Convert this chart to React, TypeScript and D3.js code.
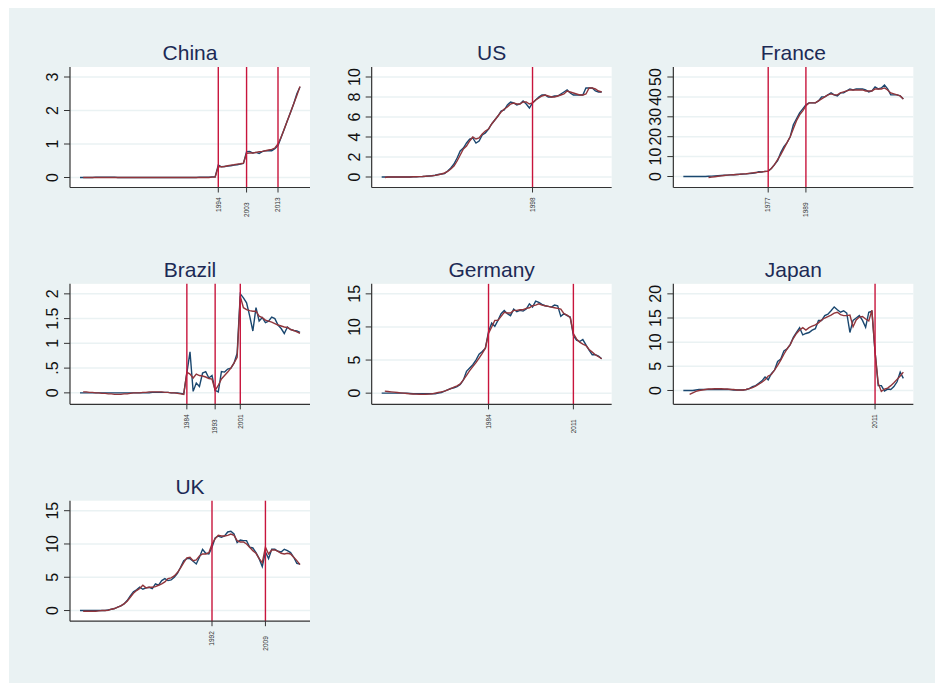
import React from 'react';
import * as d3 from 'd3';

// years shared by every panel
const years = d3.range(1950, 2021);

// China
const chinaActual = [
  0, 0, 0, 0, 0, 0.01, 0.01, 0.01, 0.01, 0.01,
  0.01, 0.01, 0, 0, 0, 0, 0, 0, 0, 0,
  0, 0, 0, 0, 0, 0, 0, 0, 0, 0,
  0, 0, 0, 0, 0, 0, 0, 0, 0.01, 0.01,
  0.01, 0.01, 0.02, 0.02, 0.37, 0.32, 0.33, 0.34, 0.35, 0.37,
  0.38, 0.4, 0.42, 0.77, 0.78, 0.73, 0.75, 0.72, 0.77, 0.8,
  0.8, 0.8, 0.86, 0.95, 1.2, 1.45, 1.7, 1.95, 2.2, 2.5,
  2.7,
];
const chinaFitted = [
  null, 0, 0, 0, 0, 0, 0, 0, 0, 0,
  0, 0, 0, 0, 0, 0, 0, 0, 0, 0,
  0, 0, 0, 0, 0, 0, 0, 0, 0, 0,
  0, 0, 0, 0, 0, 0, 0, 0, 0, 0,
  0, 0, 0.01, 0.01, 0.33, 0.32, 0.33, 0.35, 0.37, 0.38,
  0.4, 0.41, 0.43, 0.72, 0.73, 0.73, 0.75, 0.77, 0.78, 0.8,
  0.82, 0.84, 0.88, 1.0, 1.2, 1.45, 1.7, 1.95, 2.2, 2.45,
  2.72,
];
const chinaBreaks = [1994, 2003, 2013];
const chinaTicks = [0, 1, 2, 3];

// US
const usActual = [
  0, 0, 0, 0, 0, 0, 0, 0, 0, 0,
  0.02, 0.03, 0.04, 0.05, 0.07, 0.1, 0.13, 0.18, 0.25, 0.3,
  0.35, 0.6, 0.9, 1.3, 1.9, 2.6, 2.9, 3.4, 3.8, 3.9,
  3.4, 3.6, 4.2, 4.4, 4.8, 5.3, 5.7, 6.1, 6.6, 6.7,
  7.2, 7.5, 7.4, 7.2, 7.3, 7.6, 7.3, 6.9, 7.4, 7.7,
  8.0, 8.2, 8.2, 8.0, 8.0, 8.1, 8.1, 8.3, 8.5, 8.7,
  8.4, 8.2, 8.2, 8.2, 8.2, 8.9, 8.9, 8.9, 8.6, 8.5,
  8.5,
];
const usFitted = [
  null, -0.05, 0, 0, 0, 0, 0, 0, 0, 0,
  0.02, 0.03, 0.04, 0.05, 0.07, 0.09, 0.12, 0.16, 0.22, 0.3,
  0.4, 0.55, 0.8, 1.1, 1.6, 2.2, 2.8, 3.1, 3.6, 4.0,
  3.8, 3.9, 4.3, 4.6, 4.8, 5.3, 5.7, 6.1, 6.5, 6.8,
  7.0, 7.3, 7.4, 7.3, 7.3, 7.5, 7.5, 7.3, 7.4, 7.7,
  7.9, 8.1, 8.2, 8.1, 8.0, 8.0, 8.1, 8.2, 8.3, 8.6,
  8.5, 8.4, 8.3, 8.2, 8.2, 8.3, 8.9, 8.9, 8.8, 8.6,
  8.5,
];
const usBreaks = [1998];
const usTicks = [0, 2, 4, 6, 8, 10];

// France
const franceActual = [
  0, 0, 0, 0, 0, 0, 0, 0, 0.1, 0.2,
  0.3, 0.4, 0.5, 0.6, 0.7, 0.8, 0.9, 1.0, 1.1, 1.2,
  1.3, 1.5, 1.6, 1.8, 2.4, 2.3, 2.6, 2.7, 4.0, 6.0,
  8.0, 12.0, 15.0, 17.0, 20.0, 26.0, 29.0, 32.0, 34.0, 36.0,
  37.0, 37.0, 37.0, 38.0, 40.0, 40.0, 41.0, 42.0, 41.0, 40.5,
  42.0, 42.0, 43.0, 44.0, 43.5, 44.0, 44.0, 44.0, 43.5, 42.5,
  43.0, 45.0, 44.0, 44.5, 46.0, 44.0, 41.0, 41.0, 41.0, 40.5,
  39.0,
];
const franceFitted = [
  null, null, null, null, null, null, null, null, -0.5, -0.3,
  -0.1, 0.1, 0.3, 0.5, 0.7, 0.8, 0.9, 1.0, 1.1, 1.3,
  1.4, 1.6, 1.8, 2.0, 2.1, 2.3, 2.5, 2.7, 4.0, 6.0,
  8.5, 11.0, 14.0, 17.0, 20.0, 24.0, 28.0, 31.0, 33.0, 35.5,
  37.0, 37.0, 37.0, 38.0, 39.0, 40.0, 41.0, 41.5, 41.0, 41.0,
  42.0, 42.5, 43.0, 43.5, 43.5, 43.5, 43.5, 43.5, 43.0, 43.0,
  43.0, 44.0, 44.0, 44.0, 44.5, 43.5, 42.0, 41.5, 41.0, 40.5,
  39.0,
];
const franceBreaks = [1977, 1989];
const franceTicks = [0, 10, 20, 30, 40, 50];

// Brazil
const brazilActual = [
  0, 0, 0, 0, 0, 0, 0, 0, 0, 0,
  0, 0, 0, 0, 0, 0, 0, 0, 0, 0,
  0, 0, 0, 0.01, 0.01, 0.01, 0.01, 0.01, 0.01, 0,
  0, 0, -0.01, -0.02, 0.4, 0.83, 0.03, 0.2, 0.13, 0.4,
  0.43, 0.3, 0.35, 0.05, 0.02, 0.43, 0.42, 0.48, 0.5, 0.6,
  0.8, 2.0, 1.92, 1.82, 1.55, 1.25, 1.72, 1.45, 1.52, 1.42,
  1.45, 1.53, 1.5, 1.37, 1.3, 1.2, 1.33, 1.28, 1.26, 1.25,
  1.22,
];
const brazilFitted = [
  null, 0.02, 0.02, 0.01, 0.01, 0, 0, -0.01, -0.01, -0.02,
  -0.02, -0.03, -0.03, -0.03, -0.02, -0.02, -0.01, 0, 0, 0,
  0.01, 0.01, 0.02, 0.02, 0.02, 0.02, 0.02, 0.01, 0.01, 0,
  0, -0.01, -0.02, -0.03, 0.42, 0.38, 0.3, 0.38, 0.35, 0.34,
  0.32, 0.29, 0.28, 0.05, 0.15, 0.28, 0.35, 0.42, 0.5, 0.6,
  0.72, 1.95, 1.72, 1.68, 1.66, 1.65, 1.65, 1.55, 1.52, 1.47,
  1.45, 1.43, 1.4, 1.37, 1.35, 1.33, 1.32, 1.28, 1.26, 1.23,
  1.2,
];
const brazilBreaks = [1984, 1993, 2001];
const brazilTicks = [0, 0.5, 1, 1.5, 2];

// Germany
const germanyActual = [
  0, 0, 0, 0, 0, 0, 0, 0, 0, -0.05,
  -0.1, -0.1, -0.1, -0.1, -0.1, -0.1, -0.1, -0.1, 0, 0.1,
  0.3, 0.5, 0.7, 0.8, 1.0, 1.3, 2.0, 3.3, 3.8, 4.3,
  5.0, 5.9, 6.3, 6.8, 9.3, 10.6, 10.1, 11.0, 12.0, 12.5,
  12.0, 11.7, 12.7, 12.3, 12.5, 12.4, 12.7, 13.5, 13.0, 13.9,
  13.7, 13.4, 13.2, 13.1, 13.0, 13.3, 13.2, 11.6, 12.0, 11.7,
  11.5, 8.7, 8.0, 7.8, 8.1, 7.3, 6.5, 5.8, 5.8, 5.6,
  5.2,
];
const germanyFitted = [
  null, 0.3, 0.25, 0.2, 0.15, 0.1, 0.05, 0, -0.05, -0.1,
  -0.12, -0.15, -0.17, -0.18, -0.17, -0.15, -0.1, 0, 0.1, 0.2,
  0.3, 0.5, 0.7, 0.9, 1.1, 1.4, 2.0, 2.7, 3.4, 4.0,
  4.6, 5.3, 6.0, 6.8, 9.0, 10.0, 11.0, 11.0, 11.6, 12.2,
  12.1, 12.1, 12.5, 12.5, 12.6, 12.6, 12.8, 12.9, 13.2, 13.3,
  13.5, 13.3, 13.2, 13.1, 13.0, 12.9, 12.8, 12.7, 12.0, 11.8,
  11.4, 9.0, 8.2, 7.7, 7.4, 7.2, 6.6, 6.2, 5.8, 5.5,
  5.2,
];
const germanyBreaks = [1984, 2011];
const germanyTicks = [0, 5, 10, 15];

// Japan
const japanActual = [
  0, 0, 0, 0, 0.1, 0.2, 0.2, 0.2, 0.2, 0.2,
  0.2, 0.2, 0.2, 0.2, 0.2, 0.2, 0.1, 0.1, 0.1, 0.1,
  0.2, 0.4, 0.8, 1.0, 1.5, 2.0, 2.8, 2.2, 3.5, 4.2,
  6.0, 6.5, 8.2, 8.6, 9.5, 11.0, 12.0, 13.0, 11.5, 11.8,
  12.0, 12.5, 12.8, 14.5, 14.5, 15.5, 15.8, 16.5, 17.3, 16.7,
  16.2, 16.5, 16.0, 12.0, 14.5, 15.0, 15.5, 14.5, 13.1, 16.2,
  16.4, 8.0, 1.0, 1.0, -0.1, 0.3, 0.2, 0.8, 1.8, 3.8,
  2.5,
];
const japanFitted = [
  null, null, -0.8, -0.5, -0.2, 0, 0.1, 0.2, 0.3, 0.3,
  0.35, 0.35, 0.35, 0.3, 0.3, 0.2, 0.2, 0.1, 0.1, 0.1,
  0.2, 0.4, 0.6, 0.9, 1.3, 1.7, 2.2, 3.0, 3.3, 4.2,
  5.2, 6.3, 7.5, 8.6, 9.5, 10.8, 11.8, 12.5, 13.0, 12.5,
  13.0, 13.3, 13.6, 14.0, 14.6, 15.0, 15.3, 15.6, 16.0, 16.2,
  15.7, 15.5, 15.5, 15.6, 13.2, 14.6, 15.2, 15.3, 14.8, 14.4,
  16.6, 8.0, 1.5, -0.2, 0.3, 0.5, 1.0, 1.6, 2.3, 3.0,
  3.8,
];
const japanBreaks = [2011];
const japanTicks = [0, 5, 10, 15, 20];

// UK
const ukActual = [
  0, 0, 0, 0, 0, 0, 0, 0, 0, 0.1,
  0.2, 0.3, 0.5, 0.7, 1.0, 1.5, 2.2, 2.8, 3.1, 3.5,
  3.2, 3.4, 3.5, 3.3, 4.0, 3.8, 4.5, 4.8, 4.5, 4.6,
  5.0, 5.6, 6.5, 7.5, 7.8, 7.8, 7.4, 7.0, 8.0, 9.2,
  8.6, 8.5, 9.5, 10.9, 11.2, 11.0, 11.2, 11.8, 11.9, 11.5,
  10.2, 10.6, 10.5, 10.5, 9.5, 9.4, 8.7, 7.8, 6.6, 8.8,
  7.8, 9.2, 9.2, 8.9, 8.8, 9.2, 9.0, 8.7, 8.0, 7.1,
  7.0,
];
const ukFitted = [
  null, -0.1, -0.1, -0.1, -0.1, -0.1, -0.05, 0, 0, 0.05,
  0.2, 0.3, 0.5, 0.7, 1.0, 1.4, 2.0, 2.6, 3.0, 3.3,
  3.8, 3.4, 3.5, 3.5, 3.6, 3.8, 4.0, 4.3, 4.8, 4.9,
  5.2, 5.7, 6.4, 7.2, 7.9, 8.0, 7.5, 7.6, 8.2, 8.5,
  8.5, 8.7, 10.0, 10.8, 11.3, 11.2, 11.2, 11.3, 11.5, 11.3,
  10.5, 10.3, 10.3, 10.0, 9.5, 9.0, 8.6, 7.8, 7.2, 9.5,
  8.5, 9.1, 9.1, 8.9, 8.6, 8.5, 8.6, 8.5, 8.0, 7.5,
  6.9,
];
const ukBreaks = [1992, 2009];
const ukTicks = [0, 5, 10, 15];

type Panel = {
  name: string;
  actual: (number | null)[];
  fitted: (number | null)[];
  breaks: number[];
  ticks: number[];
};

const panels: Panel[] = [
  { name: 'China', actual: chinaActual, fitted: chinaFitted, breaks: chinaBreaks, ticks: chinaTicks },
  { name: 'US', actual: usActual, fitted: usFitted, breaks: usBreaks, ticks: usTicks },
  { name: 'France', actual: franceActual, fitted: franceFitted, breaks: franceBreaks, ticks: franceTicks },
  { name: 'Brazil', actual: brazilActual, fitted: brazilFitted, breaks: brazilBreaks, ticks: brazilTicks },
  { name: 'Germany', actual: germanyActual, fitted: germanyFitted, breaks: germanyBreaks, ticks: germanyTicks },
  { name: 'Japan', actual: japanActual, fitted: japanFitted, breaks: japanBreaks, ticks: japanTicks },
  { name: 'UK', actual: ukActual, fitted: ukFitted, breaks: ukBreaks, ticks: ukTicks },
];

const W = 935;
const H = 683;
const plotW = 240;
const plotH = 120.5;
const pad = 10;
const colStep = 301.67;
const rowStep = 216.85;
const font = '"Liberation Sans", Arial, Helvetica, sans-serif';

const BG = '#eaf2f3';
const BLUE = '#1a476f';
const MAROON = '#90353b';
const BREAK = '#c8153c';

// Stata style tick labels: .5 instead of 0.5
const fmt = (v: number) => {
  const s = String(v);
  return s.startsWith('0.') ? s.slice(1) : s;
};

function PanelChart({ p, idx }: { p: Panel; idx: number }) {
  const left = 70 + (idx % 3) * colStep;
  const top = 67 + Math.floor(idx / 3) * rowStep;
  const bottom = top + plotH;

  const x = d3
    .scaleLinear()
    .domain([years[0], years[years.length - 1]])
    .range([left + pad, left + plotW - pad]);

  const vals = [...p.actual, ...p.fitted].filter((v) => v != null) as number[];
  const lo = Math.min(p.ticks[0], d3.min(vals) as number);
  const hi = Math.max(p.ticks[p.ticks.length - 1], d3.max(vals) as number);
  const y = d3.scaleLinear().domain([lo, hi]).range([bottom - pad, top + pad]);

  const line = d3
    .line<number | null>()
    .defined((d) => d != null)
    .x((_, i) => x(years[i]))
    .y((d) => y(d as number));

  return (
    <g>
      <rect x={left} y={top} width={plotW} height={plotH} fill="#fff" />
      {p.ticks.map((t) => (
        <line key={'g' + t} x1={left} x2={left + plotW} y1={y(t)} y2={y(t)} stroke={BG} strokeWidth={1.5} />
      ))}
      <text
        x={left + plotW / 2}
        y={top - 7}
        textAnchor="middle"
        fontSize={21}
        fill="#1c2a55"
        fontFamily={font}
      >
        {p.name}
      </text>
      <path d={line(p.actual) || ''} fill="none" stroke={BLUE} strokeWidth={1.4} />
      <path d={line(p.fitted) || ''} fill="none" stroke={MAROON} strokeWidth={1.4} />
      {p.breaks.map((b) => (
        <line key={'b' + b} x1={x(b)} x2={x(b)} y1={top} y2={bottom} stroke={BREAK} strokeWidth={1.4} />
      ))}
      {/* y axis */}
      <line x1={left} x2={left} y1={top} y2={bottom} stroke="#333" strokeWidth={1.2} />
      {p.ticks.map((t) => (
        <g key={'t' + t}>
          <line x1={left - 6} x2={left} y1={y(t)} y2={y(t)} stroke="#333" strokeWidth={1} />
          <text
            transform={`translate(${left - 12},${y(t)}) rotate(-90)`}
            textAnchor="middle"
            fontSize={16}
            fill="#111"
            fontFamily={font}
          >
            {fmt(t)}
          </text>
        </g>
      ))}
      {/* x axis */}
      <line x1={left} x2={left + plotW} y1={bottom} y2={bottom} stroke="#333" strokeWidth={1.2} />
      {p.breaks.map((b, i) => (
        <g key={'x' + b}>
          <line x1={x(b)} x2={x(b)} y1={bottom} y2={bottom + 5} stroke="#333" strokeWidth={1} />
          <text
            transform={`translate(${x(b) + 2.3},${bottom + 10 + (i % 2) * 5}) rotate(-90)`}
            textAnchor="end"
            fontSize={6.5}
            fill="#333"
            fontFamily={font}
          >
            {b}
          </text>
        </g>
      ))}
    </g>
  );
}

export default function App() {
  return (
    <svg
      width={W}
      height={H}
      style={{ position: 'absolute', left: 0, top: 0, display: 'block' }}
    >
      <rect x={0} y={0} width={W} height={H} fill="#fff" />
      <rect x={9} y={8} width={W - 9} height={H - 8} fill={BG} />
      {panels.map((p, i) => (
        <PanelChart key={p.name} p={p} idx={i} />
      ))}
    </svg>
  );
}
